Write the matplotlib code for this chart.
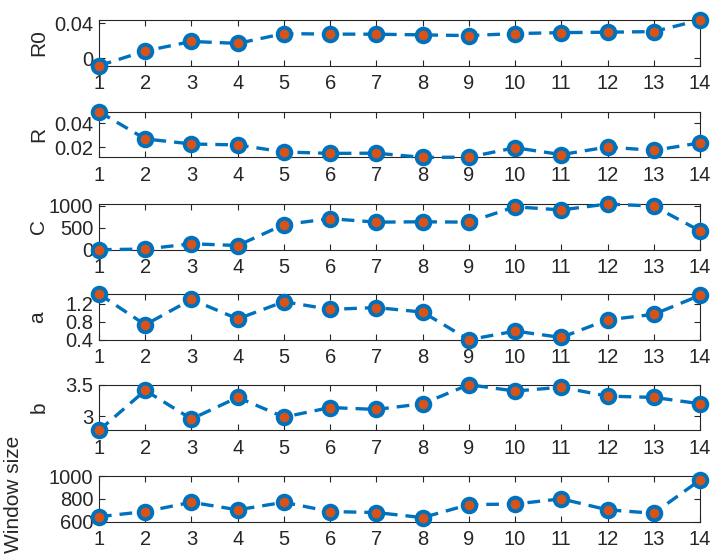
import numpy as np
import matplotlib
matplotlib.use("Agg")
import matplotlib.pyplot as plt

plt.rcParams['font.family'] = ['Liberation Sans', 'DejaVu Sans']

# window index
x = list(range(1, 15))

# parameter values per window
R0 = [-0.0088, 0.0082, 0.0192, 0.0170, 0.0283, 0.0277, 0.0276, 0.0268, 0.0260,
      0.0283, 0.0294, 0.0299, 0.0306, 0.0440]
R = [0.0495, 0.0270, 0.0228, 0.0220, 0.0162, 0.0150, 0.0152, 0.0117, 0.0119,
     0.0197, 0.0140, 0.0203, 0.0175, 0.0237]
C = [0, 15, 135, 95, 571, 706, 627, 635, 627, 976, 905, 1040, 992, 429]
a = [1.41, 0.73, 1.29, 0.86, 1.24, 1.07, 1.11, 1.01, 0.40, 0.59, 0.45, 0.84,
     0.96, 1.38]
b = [2.78, 3.41, 2.96, 3.30, 2.99, 3.14, 3.11, 3.20, 3.50, 3.40, 3.46, 3.32,
     3.30, 3.20]
window = [644, 689, 770, 704, 770, 689, 680, 636, 749, 755, 800, 704, 674, 964]

labels = ['R0', 'R', 'C', 'a', 'b', 'Window size']
series = [R0, R, C, a, b, window]
yticks = [[0, 0.04], [0.02, 0.04], [0, 500, 1000], [0.4, 0.8, 1.2], [3, 3.5],
          [600, 800, 1000]]
yticklabels = [['0', '0.04'], ['0.02', '0.04'], ['0', '500', '1000'],
               ['0.4', '0.8', '1.2'], ['3', '3.5'], ['600', '800', '1000']]

W, H = 712, 556
fig = plt.figure(figsize=(W / 100, H / 100), dpi=100)

tops = [20, 111.7, 204, 294, 384.7, 476]
ax_h = 45.7
left, right = 99, 700
# right edge (px) of each rotated y label, and its vertical centre (axes frac)
label_x = [48, 48, 48, 47, 49, 23]
label_y = [0.5, 0.5, 0.5, 0.5, 0.5, 0.6]

blue = '#0072BD'
orange = '#D95319'

for i, (lab, y) in enumerate(zip(labels, series)):
    ax = fig.add_axes([left / W, 1 - (tops[i] + ax_h) / H,
                       (right - left) / W, ax_h / H])
    ax.plot(x, y, linestyle='--', color=blue, linewidth=2.4,
            dashes=(3.8, 2.4), marker='o', markersize=9.8,
            markerfacecolor=orange, markeredgecolor=blue,
            markeredgewidth=2.8, clip_on=False, zorder=3)
    ax.set_xlim(1, 14)
    if lab == 'Window size':
        ax.set_ylim(600, 1000)
    else:
        ax.set_ylim(min(y), max(y))
    ax.set_xticks(x)
    ax.set_xticklabels([str(v) for v in x])
    ax.set_yticks(yticks[i])
    ax.set_yticklabels(yticklabels[i])
    ax.tick_params(direction='in', top=True, right=True, length=4,
                   width=0.8, colors='#262626', labelsize=14.5, pad=4)
    ax.tick_params(axis='x', pad=6)
    for s in ax.spines.values():
        s.set_color('#262626')
        s.set_linewidth(0.8)
    ax.set_ylabel(lab, fontsize=15, color='#262626')
    ax.yaxis.set_label_coords((label_x[i] - left) / (right - left), label_y[i])

fig.savefig('out.png', dpi=100)
